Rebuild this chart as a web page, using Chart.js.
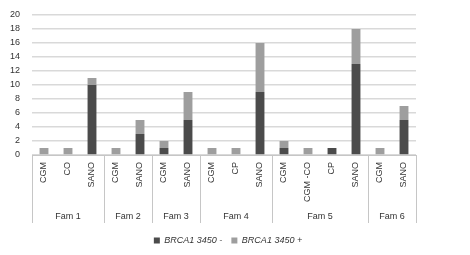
<!DOCTYPE html>
<html lang="en">
<head>
<meta charset="UTF-8">
<title>BRCA1 3450 by family</title>
<script src="https://cdn.jsdelivr.net/npm/chart.js"></script>
<style>
    body {
        margin: 0;
        padding: 0;
        background: #fff;
    }
    #chart {
        display: block;
    }
</style>
</head>
<body>
<canvas id="chart" width="470" height="255"></canvas>
<script>
    // categories (inner level) and their family groups
    const categories = ['CGM', 'CO', 'SANO', 'CGM', 'SANO', 'CGM', 'SANO', 'CGM', 'CP', 'SANO', 'CGM', 'CGM -CO', 'CP', 'SANO', 'CGM', 'SANO'];
    const groupNames = ['Fam 1', 'Fam 2', 'Fam 3', 'Fam 4', 'Fam 5', 'Fam 6'];
    const groupSizes = [3, 2, 2, 3, 4, 2];

    // series values
    const negValues = [0, 0, 10, 0, 3, 1, 5, 0, 0, 9, 1, 0, 1, 13, 0, 5];
    const posValues = [1, 1, 1, 1, 2, 1, 4, 1, 1, 7, 1, 1, 0, 5, 1, 2];
    const seriesNames = ['BRCA1 3450 -', 'BRCA1 3450 +'];

    const fontFamily = '"Liberation Sans", Arial, sans-serif';

    // draws the family row under the category labels
    const groupAxis = {
        id: 'groupAxis',
        afterLayout(chart) {
            // legend sits centred under the plot, not the whole canvas
            chart.legend.left += 17;
            chart.legend.right += 17;
        },
        afterDraw(chart) {
            const ctx = chart.ctx;
            const x = chart.scales.x;
            const top = chart.chartArea.bottom;
            const bottom = top + 68;
            const half = (x.getPixelForValue(1) - x.getPixelForValue(0)) / 2;
            ctx.save();
            ctx.strokeStyle = '#c6c6c6';
            ctx.lineWidth = 1;
            ctx.fillStyle = '#333';
            ctx.font = '9px ' + fontFamily;
            ctx.textAlign = 'center';
            ctx.textBaseline = 'middle';
            let start = 0;
            groupSizes.forEach((size, i) => {
                const left = x.getPixelForValue(start) - half;
                const right = x.getPixelForValue(start + size - 1) + half;
                [left, right].forEach(px => {
                    ctx.beginPath();
                    ctx.moveTo(Math.round(px) + 0.5, top);
                    ctx.lineTo(Math.round(px) + 0.5, bottom);
                    ctx.stroke();
                });
                ctx.fillText(groupNames[i], (left + right) / 2, top + 62);
                start += size;
            });
            ctx.restore();
        }
    };

    new Chart(document.getElementById('chart'), {
        type: 'bar',
        data: {
            labels: categories,
            datasets: [{
                label: seriesNames[0],
                data: negValues,
                backgroundColor: '#4b4b4b',
                borderWidth: 0,
                categoryPercentage: 1,
                barPercentage: 0.37
            }, {
                label: seriesNames[1],
                data: posValues,
                backgroundColor: '#9e9e9e',
                borderWidth: 0,
                categoryPercentage: 1,
                barPercentage: 0.37
            }]
        },
        options: {
            responsive: false,
            animation: false,
            devicePixelRatio: 1,
            layout: {
                padding: { left: 6, right: 54, top: 15, bottom: 0 }
            },
            scales: {
                x: {
                    stacked: true,
                    grid: { display: false, drawTicks: false },
                    border: { display: true, color: '#c6c6c6', width: 1 },
                    ticks: {
                        minRotation: 90,
                        maxRotation: 90,
                        autoSkip: false,
                        padding: 7,
                        color: '#333',
                        font: { size: 9, family: fontFamily }
                    },
                    afterFit(scale) { scale.height = 72; }
                },
                y: {
                    stacked: true,
                    min: 0,
                    max: 20,
                    grid: {
                        color: '#d9d9d9',
                        lineWidth: 1.5,
                        drawTicks: true,
                        tickLength: 8,
                        tickColor: 'rgba(0,0,0,0)'
                    },
                    border: { display: false },
                    ticks: {
                        stepSize: 2,
                        autoSkip: false,
                        padding: 4,
                        color: '#333',
                        font: { size: 9, family: fontFamily }
                    },
                    afterFit(scale) { scale.width = 26; }
                }
            },
            plugins: {
                legend: {
                    position: 'bottom',
                    labels: {
                        boxWidth: 6,
                        boxHeight: 6,
                        padding: 9,
                        color: '#333',
                        font: { size: 9, style: 'italic', family: fontFamily }
                    }
                },
                tooltip: { enabled: false }
            }
        },
        plugins: [groupAxis]
    });
</script>
</body>
</html>
